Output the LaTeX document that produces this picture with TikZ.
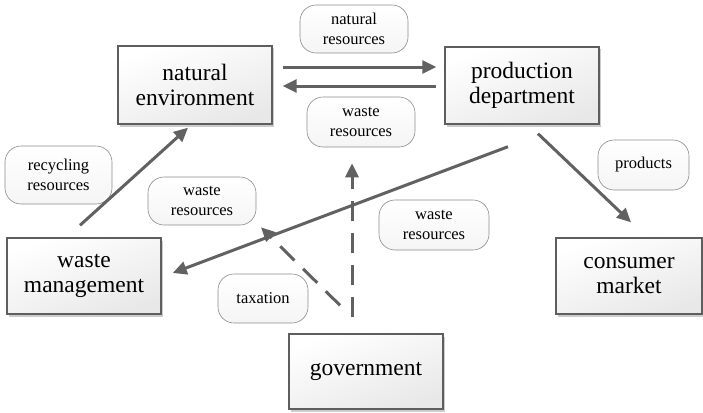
\documentclass[tikz,border=0pt]{standalone}
\usepackage{fontspec}
\setmainfont{Liberation Serif}
\usetikzlibrary{arrows.meta,shadows,calc}
\definecolor{edgegray}{HTML}{5E5E5E}
\definecolor{arrowgray}{HTML}{616161}
\definecolor{tagline}{HTML}{8C8C8C}
\tikzset{
  block/.style={draw=edgegray, line width=1.4pt, top color=white, bottom color=black!9,
    shading angle=20, align=center, inner sep=0pt,
    font=\fontsize{23.5pt}{25pt}\selectfont,
    drop shadow={shadow xshift=2pt, shadow yshift=-2.5pt, opacity=0.2, fill=black}},
  tag/.style={draw=tagline, line width=0.6pt, rounded corners=16pt, top color=white,
    bottom color=black!4, align=center, inner sep=0pt,
    font=\fontsize{16.5pt}{20pt}\selectfont},
  flow/.style={draw=arrowgray, line width=3pt, -{Triangle[length=14pt,width=13pt]}},
  dflow/.style={flow, dash pattern=on 20pt off 12pt}
}
\begin{document}
\begin{tikzpicture}[x=1pt,y=-1pt]
\useasboundingbox (0,0) rectangle (703,412);
% main blocks
\node[block, minimum width=154pt, minimum height=78pt] (ne) at (195,85) {natural\\environment};
\node[block, minimum width=154pt, minimum height=77pt] (pd) at (522,85.5) {production\\department};
\node[block, minimum width=154pt, minimum height=76pt] (wm) at (84,276) {waste\\management};
\node[block, minimum width=154pt, minimum height=75pt] (gov) at (366,371.5) {government};
\node[block, minimum width=146pt, minimum height=76pt] (cm) at (629,276) {consumer\\market};
% flow labels
\node[tag, minimum width=108pt, minimum height=48pt] (lnat) at (354,29) {natural\\resources};
\node[tag, minimum width=108pt, minimum height=50pt] (lwu) at (361,122) {waste\\resources};
\node[tag, minimum width=107pt, minimum height=58pt] (lrec) at (58.5,175) {recycling\\resources};
\node[tag, minimum width=108pt, minimum height=48pt] (lwl) at (202,201) {waste\\resources};
\node[tag, minimum width=91pt, minimum height=50pt] (lprod) at (643.5,165) {products};
\node[tag, minimum width=110pt, minimum height=50pt] (lwr) at (434,225) {waste\\resources};
\node[tag, minimum width=90pt, minimum height=49pt] (ltax) at (263,298.5) {taxation};
% flows
\draw[flow] ([xshift=10pt,yshift=18pt]ne.east) -- ([xshift=-8pt,yshift=18.5pt]pd.west);
\draw[flow] ([xshift=-8pt,yshift=-0.5pt]pd.west) -- ([xshift=10pt,yshift=-1pt]ne.east);
\draw[flow] ([xshift=-4pt,yshift=12pt]wm.north) -- ([xshift=-7pt,yshift=-3pt]ne.south);
\draw[flow] ([xshift=-14pt,yshift=-22pt]pd.south) -- ([xshift=11pt,yshift=3pt]wm.east);
\draw[flow] ([xshift=16pt,yshift=-9pt]pd.south) -- ([xshift=2pt,yshift=15pt]cm.north);
\draw[dflow] ([xshift=-14pt,yshift=16pt]gov.north) -- ([xshift=-9pt,yshift=-16pt]lwu.south);
\draw[dflow] ([xshift=-26pt,yshift=28pt]gov.north) -- ([xshift=59pt,yshift=-2pt]lwl.south);
\end{tikzpicture}
\end{document}
